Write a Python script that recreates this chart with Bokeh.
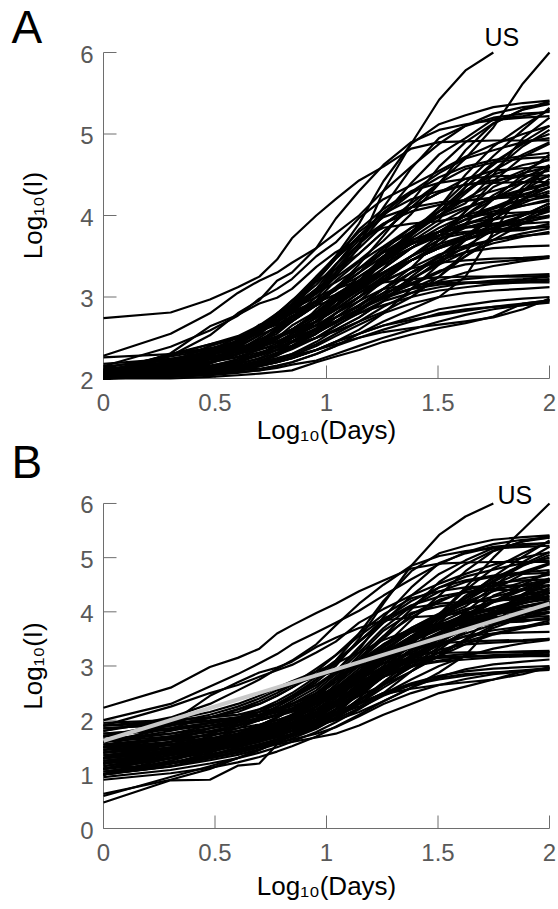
import math
from bokeh.plotting import figure
from bokeh.models import Range1d
from bokeh.core.properties import value
from bokeh.embed import file_html
from bokeh.resources import INLINE

# ---------------- data ----------------
DAYS = [1, 2, 3, 4, 5, 6, 7, 9, 11, 14, 18, 24, 32, 42, 56, 76, 100]
X_TICKS = [0, 0.5, 1, 1.5, 2]
X_TICK_LABELS = ["0", "0.5", "1", "1.5", "2"]
YA_TICKS = [2, 3, 4, 5, 6]
YB_TICKS = [0, 1, 2, 3, 4, 5, 6]
FIT_X = [0, 2]
FIT_Y = [1.62, 4.15]

# Panel A: log10(I), day 1 = first day with >= 100 cases
A_US = [2.0, 2.09, 2.2, 2.34, 2.5, 2.64, 2.75, 3.0, 3.25, 3.62, 4.3, 4.88, 5.42, 5.78, 6.0]
A_02 = [2.08, 2.3, 2.37, 2.46, 2.63, 2.79, 2.96, 3.19, 3.34, 3.53, 3.8, 4.1, 4.4, 4.7, 5.08, 5.62, 6.0]
A_03 = [2.74, 2.81, 2.97, 3.12, 3.25, 3.46, 3.72, 4.0, 4.2, 4.43, 4.6, 4.82, 4.9, 4.91, 4.92, 4.92, 4.92]
A_04 = [2.28, 2.55, 2.8, 3.05, 3.2, 3.3, 3.42, 3.6, 3.78, 4.0, 4.3, 4.6, 4.88, 5.1, 5.25, 5.33, 5.37]
A_05 = [2.02, 2.31, 2.64, 2.78, 2.92, 2.99, 3.1, 3.37, 3.55, 3.71, 3.85, 3.9, 3.93, 3.99, 4.02, 4.04, 4.06]
A_06 = [2.26, 2.3, 2.35, 2.38, 2.42, 2.46, 2.5, 2.58, 2.68, 2.85, 2.98, 3.1, 3.25, 3.55, 3.95, 4.18, 4.23]
A_07 = [2.08, 2.18, 2.3, 2.42, 2.6, 2.78, 2.9, 3.22, 3.5, 3.9, 4.42, 4.88, 5.12, 5.23, 5.33, 5.38, 5.41]
A_08 = [2.11, 2.2, 2.3, 2.42, 2.56, 2.7, 2.9, 3.08, 3.3, 3.66, 4.1, 4.58, 4.95, 5.1, 5.2, 5.25, 5.27]
A_09 = [2.11, 2.15, 2.29, 2.45, 2.6, 2.75, 2.85, 3.05, 3.35, 3.65, 4.0, 4.4, 4.75, 4.95, 5.18, 5.22, 5.28]
A_10 = [2.06, 2.21, 2.32, 2.43, 2.58, 2.66, 2.77, 2.9, 3.1, 3.4, 3.75, 4.17, 4.6, 4.9, 5.13, 5.3, 5.4]
A_11 = [2.06, 2.17, 2.29, 2.41, 2.6, 2.67, 2.87, 3.1, 3.24, 3.45, 3.69, 4.02, 4.39, 4.8, 5.13, 5.3, 5.37]
A_12 = [2.0, 2.28, 2.53, 2.8, 2.96, 3.2, 3.3, 3.6, 3.96, 4.3, 4.62, 4.9, 5.05, 5.12, 5.17, 5.2, 5.22]
A_13 = [2.15, 2.39, 2.59, 2.77, 2.98, 3.1, 3.22, 3.5, 3.67, 3.97, 4.2, 4.37, 4.55, 4.72, 4.87, 5.0, 5.1]
A_14 = [2.04, 2.1, 2.15, 2.24, 2.3, 2.4, 2.5, 2.66, 2.9, 3.19, 3.49, 3.8, 4.1, 4.4, 4.73, 5.05, 5.32]
A_15 = [2.07, 2.16, 2.2, 2.34, 2.42, 2.5, 2.58, 2.7, 2.98, 3.12, 3.35, 3.76, 4.1, 4.5, 4.85, 5.1, 5.3]
A_16 = [2.08, 2.19, 2.3, 2.38, 2.53, 2.63, 2.72, 2.96, 3.2, 3.43, 3.62, 3.85, 4.0, 4.15, 4.5, 4.95, 5.2]
A_17 = [2.08, 2.2, 2.23, 2.3, 2.4, 2.5, 2.6, 2.77, 2.99, 3.2, 3.47, 3.77, 4.05, 4.35, 4.62, 4.9, 5.1]
A_18 = [2.1, 2.24, 2.33, 2.42, 2.6, 2.69, 2.83, 3.05, 3.39, 3.75, 4.04, 4.29, 4.52, 4.7, 4.8, 4.9, 4.95]
A_19 = [2.04, 2.3, 2.37, 2.4, 2.53, 2.75, 2.84, 3.2, 3.47, 3.73, 4.0, 4.27, 4.47, 4.6, 4.68, 4.73, 4.77]
A_20 = [2.07, 2.3, 2.42, 2.5, 2.6, 2.7, 2.8, 3.07, 3.3, 3.6, 3.88, 4.15, 4.4, 4.57, 4.65, 4.7, 4.72]
A_21 = [2.07, 2.13, 2.2, 2.3, 2.38, 2.45, 2.55, 2.75, 2.95, 3.1, 3.45, 3.72, 3.95, 4.35, 4.65, 4.88, 5.0]
A_22 = [2.13, 2.27, 2.35, 2.46, 2.66, 2.72, 2.82, 2.95, 3.08, 3.3, 3.55, 3.76, 4.0, 4.27, 4.55, 4.85, 5.05]
A_23 = [2.08, 2.14, 2.2, 2.3, 2.4, 2.5, 2.6, 2.65, 2.75, 2.88, 3.1, 3.36, 3.7, 4.05, 4.42, 4.72, 4.88]
A_24 = [2.06, 2.28, 2.42, 2.52, 2.65, 2.8, 2.95, 3.25, 3.48, 3.83, 4.08, 4.3, 4.4, 4.45, 4.48, 4.49, 4.49]
A_25 = [2.01, 2.16, 2.26, 2.48, 2.62, 2.8, 2.9, 3.2, 3.47, 3.75, 3.98, 4.1, 4.16, 4.19, 4.21, 4.23, 4.24]
A_26 = [2.08, 2.2, 2.4, 2.5, 2.6, 2.7, 2.8, 2.93, 3.03, 3.2, 3.5, 3.8, 4.0, 4.2, 4.4, 4.55, 4.7]
A_27 = [2.05, 2.2, 2.35, 2.5, 2.62, 2.78, 2.92, 3.25, 3.5, 3.8, 4.02, 4.2, 4.3, 4.38, 4.43, 4.48, 4.55]
A_28 = [2.1, 2.2, 2.32, 2.45, 2.55, 2.7, 2.83, 3.04, 3.27, 3.53, 3.8, 4.1, 4.28, 4.38, 4.4, 4.41, 4.41]
A_29 = [2.1, 2.2, 2.3, 2.44, 2.6, 2.7, 2.85, 3.1, 3.4, 3.7, 3.9, 4.05, 4.13, 4.18, 4.22, 4.26, 4.35]
A_30 = [2.02, 2.04, 2.07, 2.1, 2.12, 2.16, 2.2, 2.3, 2.4, 2.55, 2.7, 2.85, 3.0, 3.25, 3.8, 4.3, 4.6]
A_31 = [2.0, 2.05, 2.15, 2.2, 2.3, 2.4, 2.5, 2.7, 2.9, 3.15, 3.45, 3.75, 4.05, 4.3, 4.5, 4.62, 4.68]
A_32 = [2.05, 2.07, 2.1, 2.15, 2.2, 2.3, 2.4, 2.6, 2.8, 3.0, 3.25, 3.5, 3.75, 4.05, 4.35, 4.52, 4.6]
A_33 = [2.0, 2.05, 2.1, 2.2, 2.3, 2.4, 2.52, 2.7, 2.95, 3.2, 3.5, 3.78, 4.05, 4.3, 4.55, 4.75, 4.9]
A_34 = [2.06, 2.2, 2.3, 2.36, 2.4, 2.48, 2.6, 2.8, 2.98, 3.15, 3.35, 3.6, 3.8, 4.0, 4.25, 4.45, 4.62]
A_35 = [2.03, 2.15, 2.28, 2.4, 2.6, 2.75, 2.9, 3.15, 3.4, 3.65, 3.9, 4.1, 4.28, 4.45, 4.55, 4.58, 4.6]
A_36 = [2.02, 2.2, 2.3, 2.38, 2.45, 2.58, 2.7, 2.9, 3.1, 3.35, 3.6, 3.8, 3.98, 4.1, 4.2, 4.3, 4.38]
A_37 = [2.05, 2.15, 2.2, 2.3, 2.4, 2.5, 2.6, 2.8, 3.0, 3.25, 3.45, 3.65, 3.85, 4.0, 4.1, 4.2, 4.3]
A_38 = [2.07, 2.13, 2.23, 2.3, 2.36, 2.5, 2.65, 2.82, 3.0, 3.2, 3.4, 3.6, 3.8, 4.0, 4.2, 4.4, 4.58]
A_39 = [2.03, 2.15, 2.27, 2.33, 2.36, 2.4, 2.55, 2.85, 3.03, 3.2, 3.45, 3.65, 3.8, 3.95, 4.08, 4.2, 4.35]
A_40 = [2.02, 2.06, 2.12, 2.2, 2.4, 2.6, 2.75, 2.9, 3.1, 3.3, 3.57, 3.85, 4.05, 4.2, 4.3, 4.4, 4.48]
A_41 = [2.0, 2.2, 2.4, 2.5, 2.6, 2.7, 2.8, 2.9, 2.97, 3.12, 3.3, 3.5, 3.7, 3.85, 3.95, 4.02, 4.06]
A_42 = [2.0, 2.15, 2.3, 2.45, 2.58, 2.75, 2.9, 3.05, 3.18, 3.35, 3.55, 3.7, 3.8, 3.85, 3.88, 3.9, 3.92]
A_43 = [2.0, 2.1, 2.18, 2.3, 2.45, 2.55, 2.7, 2.9, 3.1, 3.35, 3.55, 3.7, 3.8, 3.86, 3.9, 3.95, 4.0]
A_44 = [2.03, 2.07, 2.1, 2.15, 2.2, 2.3, 2.4, 2.5, 2.6, 2.75, 2.95, 3.2, 3.45, 3.7, 4.0, 4.35, 4.6]
A_45 = [2.06, 2.08, 2.2, 2.3, 2.4, 2.6, 2.85, 3.0, 3.1, 3.2, 3.3, 3.45, 3.65, 3.9, 4.2, 4.5, 4.75]
A_46 = [2.04, 2.1, 2.2, 2.3, 2.4, 2.5, 2.6, 2.8, 2.95, 3.1, 3.3, 3.45, 3.6, 3.75, 3.95, 4.2, 4.45]
A_47 = [2.05, 2.15, 2.25, 2.35, 2.45, 2.6, 2.7, 2.9, 3.1, 3.3, 3.5, 3.65, 3.8, 3.95, 4.1, 4.25, 4.35]
A_48 = [2.03, 2.12, 2.24, 2.33, 2.48, 2.58, 2.7, 2.95, 3.1, 3.25, 3.45, 3.6, 3.75, 3.9, 4.0, 4.15, 4.28]
A_49 = [2.05, 2.08, 2.1, 2.12, 2.15, 2.2, 2.25, 2.35, 2.45, 2.6, 2.8, 3.1, 3.4, 3.7, 4.0, 4.3, 4.5]
A_50 = [2.07, 2.1, 2.2, 2.3, 2.45, 2.62, 2.75, 2.95, 3.12, 3.35, 3.55, 3.67, 3.72, 3.78, 3.8, 3.82, 3.9]
A_51 = [2.04, 2.1, 2.15, 2.2, 2.3, 2.4, 2.55, 2.7, 2.85, 3.05, 3.25, 3.45, 3.6, 3.72, 3.8, 3.84, 3.86]
A_52 = [2.0, 2.1, 2.2, 2.3, 2.4, 2.5, 2.6, 2.8, 3.0, 3.2, 3.4, 3.6, 3.8, 3.9, 3.96, 4.02, 4.08]
A_53 = [2.0, 2.05, 2.1, 2.15, 2.2, 2.3, 2.4, 2.55, 2.75, 2.95, 3.2, 3.45, 3.6, 3.7, 3.8, 3.9, 4.0]
A_54 = [2.0, 2.05, 2.1, 2.2, 2.3, 2.4, 2.5, 2.6, 2.7, 2.85, 3.05, 3.3, 3.5, 3.7, 3.85, 4.0, 4.1]
A_55 = [2.0, 2.08, 2.15, 2.2, 2.3, 2.4, 2.5, 2.7, 2.9, 3.1, 3.3, 3.5, 3.65, 3.75, 3.85, 3.95, 4.05]
A_56 = [2.0, 2.05, 2.1, 2.15, 2.2, 2.3, 2.45, 2.6, 2.8, 3.0, 3.25, 3.45, 3.6, 3.75, 3.88, 4.0, 4.15]
A_57 = [2.0, 2.05, 2.13, 2.2, 2.3, 2.35, 2.45, 2.6, 2.75, 2.9, 3.1, 3.3, 3.45, 3.55, 3.6, 3.62, 3.63]
A_58 = [2.0, 2.05, 2.1, 2.15, 2.2, 2.25, 2.3, 2.45, 2.6, 2.75, 2.95, 3.25, 3.5, 3.75, 4.0, 4.2, 4.35]
A_59 = [2.04, 2.07, 2.1, 2.2, 2.3, 2.35, 2.4, 2.5, 2.58, 2.7, 2.82, 3.0, 3.25, 3.5, 3.75, 3.95, 4.12]
A_60 = [2.0, 2.05, 2.1, 2.18, 2.25, 2.35, 2.45, 2.6, 2.7, 2.85, 3.0, 3.15, 3.3, 3.5, 3.7, 3.9, 4.1]
A_61 = [2.0, 2.07, 2.13, 2.2, 2.28, 2.35, 2.45, 2.6, 2.75, 2.9, 3.05, 3.17, 3.32, 3.4, 3.43, 3.46, 3.5]
A_62 = [2.06, 2.2, 2.3, 2.35, 2.4, 2.5, 2.6, 2.8, 2.95, 3.1, 3.18, 3.22, 3.24, 3.25, 3.25, 3.25, 3.26]
A_63 = [2.0, 2.05, 2.12, 2.2, 2.3, 2.4, 2.5, 2.7, 2.9, 3.15, 3.45, 3.65, 3.76, 3.8, 3.83, 3.85, 3.87]
A_64 = [2.02, 2.05, 2.1, 2.15, 2.2, 2.3, 2.5, 2.7, 2.85, 3.05, 3.2, 3.35, 3.42, 3.45, 3.47, 3.48, 3.5]
A_65 = [2.0, 2.06, 2.12, 2.2, 2.3, 2.4, 2.5, 2.65, 2.8, 2.95, 3.1, 3.15, 3.17, 3.18, 3.18, 3.18, 3.18]
A_66 = [2.0, 2.05, 2.1, 2.15, 2.2, 2.3, 2.4, 2.55, 2.7, 2.85, 3.0, 3.1, 3.15, 3.17, 3.18, 3.2, 3.22]
A_67 = [2.0, 2.05, 2.1, 2.2, 2.3, 2.4, 2.5, 2.6, 2.7, 2.85, 3.0, 3.1, 3.18, 3.22, 3.25, 3.27, 3.28]
A_68 = [2.0, 2.15, 2.25, 2.35, 2.4, 2.45, 2.5, 2.6, 2.7, 2.8, 2.9, 3.0, 3.08, 3.12, 3.16, 3.18, 3.2]
A_69 = [2.0, 2.05, 2.1, 2.15, 2.2, 2.28, 2.38, 2.5, 2.65, 2.8, 2.95, 3.05, 3.12, 3.17, 3.2, 3.22, 3.25]
A_70 = [2.0, 2.04, 2.08, 2.1, 2.15, 2.2, 2.25, 2.35, 2.45, 2.55, 2.65, 2.75, 2.85, 2.9, 2.95, 2.98, 3.0]
A_71 = [2.0, 2.02, 2.05, 2.08, 2.1, 2.15, 2.2, 2.3, 2.4, 2.5, 2.6, 2.7, 2.8, 2.85, 2.88, 2.9, 2.93]
A_72 = [2.0, 2.03, 2.06, 2.1, 2.15, 2.2, 2.25, 2.35, 2.45, 2.55, 2.65, 2.72, 2.78, 2.83, 2.88, 2.92, 2.96]
A_73 = [2.0, 2.02, 2.04, 2.07, 2.1, 2.13, 2.17, 2.22, 2.3, 2.4, 2.5, 2.6, 2.7, 2.78, 2.85, 2.9, 2.95]
A_74 = [2.0, 2.04, 2.08, 2.13, 2.18, 2.23, 2.28, 2.35, 2.42, 2.5, 2.57, 2.62, 2.66, 2.7, 2.75, 2.85, 2.98]
A_75 = [2.0, 2.0, 2.02, 2.04, 2.06, 2.08, 2.1, 2.2, 2.27, 2.35, 2.45, 2.54, 2.62, 2.68, 2.76, 2.92, 2.96]
A_76 = [2.01, 2.06, 2.12, 2.18, 2.24, 2.32, 2.4, 2.55, 2.7, 2.9, 3.1, 3.3, 3.48, 3.6, 3.7, 3.78, 3.84]
A_77 = [2.03, 2.1, 2.16, 2.22, 2.3, 2.38, 2.46, 2.62, 2.8, 3.0, 3.22, 3.45, 3.62, 3.75, 3.85, 3.92, 3.98]
A_78 = [2.12, 2.18, 2.26, 2.34, 2.42, 2.5, 2.58, 2.74, 2.9, 3.08, 3.28, 3.5, 3.7, 3.88, 4.02, 4.12, 4.2]
A_79 = [2.02, 2.05, 2.09, 2.13, 2.18, 2.24, 2.3, 2.42, 2.55, 2.7, 2.88, 3.05, 3.2, 3.3, 3.38, 3.44, 3.48]
A_80 = [2.15, 2.22, 2.3, 2.37, 2.44, 2.52, 2.6, 2.78, 2.95, 3.18, 3.42, 3.68, 3.9, 4.08, 4.22, 4.32, 4.4]
A_81 = [2.0, 2.03, 2.07, 2.11, 2.16, 2.22, 2.28, 2.4, 2.52, 2.66, 2.8, 2.92, 3.0, 3.05, 3.08, 3.1, 3.12]
A_82 = [2.05, 2.12, 2.2, 2.27, 2.35, 2.43, 2.52, 2.7, 2.88, 3.1, 3.35, 3.6, 3.8, 3.95, 4.05, 4.12, 4.18]
A_83 = [2.18, 2.24, 2.3, 2.36, 2.43, 2.5, 2.57, 2.7, 2.84, 3.0, 3.18, 3.36, 3.52, 3.63, 3.7, 3.75, 3.78]
A_84 = [2.0, 2.04, 2.1, 2.16, 2.22, 2.29, 2.36, 2.5, 2.64, 2.82, 3.02, 3.22, 3.4, 3.55, 3.66, 3.74, 3.8]
A_85 = [2.08, 2.14, 2.2, 2.26, 2.32, 2.38, 2.44, 2.56, 2.68, 2.84, 3.02, 3.22, 3.42, 3.62, 3.82, 4.0, 4.15]

# Panel B: log10(I), other day-1 alignment
B_US = [1.45, 1.7, 1.85, 1.97, 2.1, 2.25, 2.4, 2.7, 3.0, 3.5, 4.15, 4.85, 5.42, 5.76, 6.0]
B_02 = [1.3, 1.5, 1.65, 1.8, 1.9, 2.0, 2.1, 2.3, 2.5, 2.8, 3.1, 3.5, 3.95, 4.45, 5.0, 5.52, 6.0]
B_03 = [2.23, 2.6, 2.98, 3.15, 3.32, 3.6, 3.75, 3.98, 4.15, 4.38, 4.58, 4.8, 4.89, 4.91, 4.92, 4.92, 4.92]
B_04 = [2.0, 2.3, 2.62, 2.85, 3.05, 3.22, 3.4, 3.62, 3.8, 4.02, 4.3, 4.6, 4.88, 5.1, 5.25, 5.33, 5.37]
B_05 = [1.5, 1.95, 2.45, 2.7, 2.88, 2.97, 3.08, 3.35, 3.52, 3.7, 3.84, 3.9, 3.93, 3.99, 4.02, 4.04, 4.06]
B_06 = [1.9, 1.95, 2.0, 2.05, 2.1, 2.15, 2.2, 2.3, 2.42, 2.6, 2.8, 2.98, 3.18, 3.5, 3.92, 4.17, 4.23]
B_07 = [1.7, 1.85, 1.95, 2.05, 2.2, 2.35, 2.5, 2.8, 3.1, 3.6, 4.2, 4.75, 5.08, 5.22, 5.33, 5.38, 5.41]
B_08 = [1.4, 1.6, 1.75, 1.9, 2.05, 2.2, 2.35, 2.6, 2.9, 3.3, 3.9, 4.45, 4.9, 5.08, 5.2, 5.25, 5.27]
B_09 = [1.9, 2.0, 2.05, 2.1, 2.2, 2.3, 2.4, 2.65, 2.9, 3.35, 3.8, 4.3, 4.7, 4.95, 5.18, 5.22, 5.28]
B_10 = [1.6, 1.75, 1.9, 2.0, 2.1, 2.2, 2.3, 2.5, 2.75, 3.1, 3.55, 4.05, 4.55, 4.88, 5.13, 5.3, 5.4]
B_11 = [1.2, 1.4, 1.55, 1.7, 1.8, 1.9, 2.0, 2.25, 2.5, 2.9, 3.35, 3.85, 4.3, 4.75, 5.12, 5.3, 5.37]
B_12 = [1.8, 2.05, 2.3, 2.55, 2.75, 2.95, 3.1, 3.4, 3.75, 4.15, 4.5, 4.85, 5.03, 5.12, 5.17, 5.2, 5.22]
B_13 = [1.9, 2.25, 2.5, 2.65, 2.8, 2.92, 3.02, 3.25, 3.45, 3.8, 4.05, 4.3, 4.52, 4.7, 4.87, 5.0, 5.1]
B_14 = [1.05, 1.22, 1.35, 1.47, 1.56, 1.64, 1.72, 1.87, 2.05, 2.4, 2.85, 3.3, 3.8, 4.25, 4.65, 5.02, 5.32]
B_15 = [1.0, 1.2, 1.35, 1.5, 1.6, 1.7, 1.8, 2.0, 2.3, 2.65, 3.0, 3.5, 3.95, 4.4, 4.8, 5.08, 5.3]
B_16 = [1.3, 1.5, 1.7, 1.85, 2.0, 2.1, 2.2, 2.45, 2.75, 3.05, 3.35, 3.65, 3.9, 4.1, 4.45, 4.92, 5.2]
B_17 = [1.15, 1.35, 1.48, 1.58, 1.66, 1.74, 1.85, 2.07, 2.35, 2.75, 3.1, 3.5, 3.9, 4.25, 4.58, 4.88, 5.1]
B_18 = [1.5, 1.7, 1.85, 1.95, 2.05, 2.15, 2.3, 2.55, 2.85, 3.25, 3.7, 4.1, 4.45, 4.65, 4.78, 4.9, 4.95]
B_19 = [1.6, 1.8, 1.95, 2.05, 2.15, 2.3, 2.45, 2.75, 3.05, 3.45, 3.85, 4.2, 4.45, 4.58, 4.67, 4.73, 4.77]
B_20 = [1.7, 1.9, 2.05, 2.15, 2.3, 2.45, 2.6, 2.85, 3.1, 3.45, 3.8, 4.1, 4.37, 4.55, 4.65, 4.7, 4.72]
B_21 = [1.0, 1.2, 1.4, 1.55, 1.7, 1.8, 1.95, 2.2, 2.45, 2.75, 3.15, 3.55, 3.9, 4.3, 4.62, 4.87, 5.0]
B_22 = [1.3, 1.6, 1.85, 2.0, 2.15, 2.3, 2.45, 2.65, 2.85, 3.1, 3.4, 3.7, 3.97, 4.25, 4.55, 4.85, 5.05]
B_23 = [1.2, 1.35, 1.5, 1.6, 1.7, 1.8, 1.9, 2.05, 2.25, 2.5, 2.8, 3.2, 3.6, 4.0, 4.4, 4.7, 4.88]
B_24 = [1.6, 1.85, 2.05, 2.2, 2.35, 2.5, 2.65, 2.95, 3.2, 3.6, 3.95, 4.25, 4.38, 4.45, 4.48, 4.49, 4.49]
B_25 = [1.7, 1.9, 2.05, 2.2, 2.3, 2.45, 2.6, 2.9, 3.2, 3.55, 3.88, 4.07, 4.15, 4.19, 4.21, 4.23, 4.24]
B_26 = [1.1, 1.3, 1.45, 1.6, 1.75, 1.9, 2.05, 2.35, 2.65, 3.0, 3.35, 3.7, 3.95, 4.18, 4.38, 4.55, 4.7]
B_27 = [1.3, 1.55, 1.75, 1.9, 2.05, 2.25, 2.4, 2.75, 3.05, 3.45, 3.85, 4.12, 4.28, 4.37, 4.43, 4.48, 4.55]
B_28 = [1.0, 1.25, 1.45, 1.6, 1.75, 1.9, 2.05, 2.35, 2.65, 3.1, 3.5, 3.95, 4.22, 4.36, 4.4, 4.41, 4.41]
B_29 = [1.1, 1.35, 1.5, 1.65, 1.8, 1.95, 2.1, 2.4, 2.75, 3.2, 3.65, 3.98, 4.1, 4.17, 4.22, 4.26, 4.35]
B_30 = [1.5, 1.55, 1.6, 1.65, 1.7, 1.75, 1.8, 1.9, 2.0, 2.15, 2.35, 2.6, 2.88, 3.2, 3.75, 4.28, 4.6]
B_31 = [1.1, 1.2, 1.3, 1.4, 1.5, 1.6, 1.72, 1.95, 2.2, 2.55, 2.95, 3.45, 3.9, 4.25, 4.48, 4.62, 4.68]
B_32 = [1.3, 1.4, 1.5, 1.6, 1.65, 1.72, 1.8, 1.95, 2.1, 2.35, 2.7, 3.1, 3.5, 3.9, 4.3, 4.5, 4.6]
B_33 = [1.4, 1.48, 1.55, 1.6, 1.66, 1.72, 1.8, 1.98, 2.2, 2.55, 2.95, 3.4, 3.85, 4.2, 4.5, 4.74, 4.9]
B_34 = [1.0, 1.25, 1.45, 1.6, 1.7, 1.8, 1.9, 2.1, 2.35, 2.65, 2.95, 3.3, 3.62, 3.9, 4.2, 4.43, 4.62]
B_35 = [1.2, 1.4, 1.6, 1.75, 1.9, 2.05, 2.2, 2.5, 2.8, 3.15, 3.55, 3.9, 4.18, 4.4, 4.53, 4.58, 4.6]
B_36 = [1.0, 1.3, 1.5, 1.65, 1.8, 1.95, 2.1, 2.35, 2.6, 2.95, 3.3, 3.62, 3.88, 4.05, 4.18, 4.3, 4.38]
B_37 = [1.3, 1.45, 1.55, 1.65, 1.75, 1.85, 1.95, 2.2, 2.45, 2.8, 3.15, 3.48, 3.75, 3.95, 4.08, 4.2, 4.3]
B_38 = [1.3, 1.5, 1.65, 1.75, 1.85, 1.95, 2.05, 2.3, 2.55, 2.85, 3.15, 3.45, 3.72, 3.96, 4.18, 4.4, 4.58]
B_39 = [0.64, 0.9, 1.1, 1.3, 1.45, 1.6, 1.75, 2.0, 2.3, 2.7, 3.1, 3.45, 3.7, 3.9, 4.05, 4.2, 4.35]
B_40 = [1.3, 1.42, 1.52, 1.6, 1.68, 1.77, 1.87, 2.1, 2.4, 2.8, 3.25, 3.65, 3.95, 4.15, 4.28, 4.4, 4.48]
B_41 = [1.7, 1.95, 2.1, 2.25, 2.4, 2.55, 2.65, 2.8, 2.9, 3.05, 3.22, 3.45, 3.67, 3.83, 3.95, 4.02, 4.06]
B_42 = [1.8, 2.0, 2.15, 2.3, 2.45, 2.6, 2.72, 2.9, 3.05, 3.25, 3.48, 3.67, 3.78, 3.85, 3.88, 3.9, 3.92]
B_43 = [1.5, 1.65, 1.8, 1.9, 2.0, 2.1, 2.22, 2.45, 2.7, 3.05, 3.4, 3.63, 3.77, 3.85, 3.9, 3.95, 4.0]
B_44 = [1.5, 1.55, 1.6, 1.65, 1.7, 1.78, 1.85, 1.98, 2.12, 2.35, 2.65, 3.0, 3.35, 3.65, 3.98, 4.33, 4.6]
B_45 = [1.25, 1.4, 1.55, 1.68, 1.8, 1.92, 2.05, 2.35, 2.6, 2.9, 3.1, 3.35, 3.6, 3.87, 4.18, 4.5, 4.75]
B_46 = [1.5, 1.6, 1.67, 1.73, 1.8, 1.86, 1.92, 2.08, 2.3, 2.6, 2.95, 3.25, 3.5, 3.7, 3.93, 4.2, 4.45]
B_47 = [1.35, 1.5, 1.62, 1.72, 1.82, 1.92, 2.02, 2.25, 2.5, 2.82, 3.2, 3.5, 3.72, 3.92, 4.08, 4.24, 4.35]
B_48 = [1.85, 1.92, 1.98, 2.03, 2.08, 2.14, 2.2, 2.35, 2.55, 2.87, 3.2, 3.48, 3.7, 3.87, 4.0, 4.15, 4.28]
B_49 = [1.2, 1.4, 1.55, 1.65, 1.75, 1.82, 1.9, 2.0, 2.1, 2.25, 2.5, 2.9, 3.3, 3.65, 3.98, 4.3, 4.5]
B_50 = [1.0, 1.15, 1.3, 1.4, 1.5, 1.6, 1.7, 1.9, 2.2, 2.7, 3.2, 3.55, 3.7, 3.77, 3.8, 3.82, 3.9]
B_51 = [1.75, 1.82, 1.9, 1.97, 2.03, 2.1, 2.17, 2.32, 2.48, 2.75, 3.05, 3.35, 3.55, 3.7, 3.79, 3.84, 3.86]
B_52 = [1.55, 1.65, 1.73, 1.8, 1.88, 1.96, 2.05, 2.25, 2.55, 2.9, 3.25, 3.55, 3.77, 3.89, 3.96, 4.02, 4.08]
B_53 = [1.45, 1.55, 1.62, 1.7, 1.78, 1.85, 1.92, 2.08, 2.27, 2.58, 2.95, 3.3, 3.55, 3.7, 3.8, 3.9, 4.0]
B_54 = [1.35, 1.48, 1.58, 1.66, 1.73, 1.8, 1.87, 2.02, 2.2, 2.45, 2.8, 3.15, 3.45, 3.68, 3.85, 4.0, 4.1]
B_55 = [1.1, 1.3, 1.45, 1.6, 1.7, 1.8, 1.9, 2.15, 2.4, 2.75, 3.1, 3.4, 3.6, 3.74, 3.85, 3.95, 4.05]
B_56 = [1.25, 1.38, 1.47, 1.55, 1.62, 1.68, 1.74, 1.92, 2.15, 2.5, 2.9, 3.3, 3.55, 3.73, 3.88, 4.0, 4.15]
B_57 = [1.6, 1.7, 1.78, 1.85, 1.92, 2.0, 2.07, 2.2, 2.35, 2.58, 2.88, 3.2, 3.42, 3.55, 3.6, 3.62, 3.63]
B_58 = [1.0, 1.2, 1.35, 1.45, 1.55, 1.65, 1.75, 1.9, 2.05, 2.3, 2.65, 3.05, 3.42, 3.72, 4.0, 4.2, 4.35]
B_59 = [1.4, 1.55, 1.65, 1.75, 1.85, 1.92, 2.0, 2.15, 2.28, 2.45, 2.65, 2.9, 3.2, 3.48, 3.75, 3.95, 4.12]
B_60 = [0.6, 0.95, 1.15, 1.3, 1.45, 1.6, 1.72, 1.95, 2.2, 2.5, 2.8, 3.05, 3.25, 3.48, 3.7, 3.9, 4.1]
B_61 = [1.2, 1.4, 1.55, 1.68, 1.8, 1.9, 2.0, 2.25, 2.5, 2.75, 2.98, 3.15, 3.3, 3.4, 3.43, 3.46, 3.5]
B_62 = [1.2, 1.45, 1.6, 1.75, 1.9, 2.05, 2.2, 2.5, 2.75, 3.0, 3.15, 3.22, 3.24, 3.25, 3.25, 3.25, 3.26]
B_63 = [1.4, 1.55, 1.65, 1.72, 1.8, 1.88, 1.95, 2.15, 2.45, 2.85, 3.3, 3.62, 3.76, 3.8, 3.83, 3.85, 3.87]
B_64 = [1.5, 1.55, 1.6, 1.65, 1.7, 1.75, 1.8, 1.9, 2.1, 2.5, 2.95, 3.3, 3.42, 3.45, 3.47, 3.48, 3.5]
B_65 = [1.95, 2.0, 2.05, 2.1, 2.15, 2.22, 2.3, 2.45, 2.6, 2.85, 3.05, 3.15, 3.17, 3.18, 3.18, 3.18, 3.18]
B_66 = [1.65, 1.75, 1.85, 1.92, 2.0, 2.08, 2.15, 2.3, 2.45, 2.7, 2.92, 3.08, 3.15, 3.17, 3.18, 3.2, 3.22]
B_67 = [1.1, 1.3, 1.45, 1.6, 1.75, 1.9, 2.05, 2.3, 2.5, 2.75, 2.98, 3.1, 3.18, 3.22, 3.25, 3.27, 3.28]
B_68 = [1.2, 1.45, 1.6, 1.75, 1.9, 2.05, 2.2, 2.4, 2.55, 2.72, 2.88, 3.0, 3.08, 3.12, 3.16, 3.18, 3.2]
B_69 = [1.55, 1.65, 1.72, 1.8, 1.88, 1.95, 2.02, 2.15, 2.3, 2.55, 2.8, 3.0, 3.1, 3.17, 3.2, 3.22, 3.25]
B_70 = [1.0, 1.2, 1.35, 1.5, 1.6, 1.7, 1.8, 1.95, 2.1, 2.3, 2.5, 2.68, 2.82, 2.9, 2.95, 2.98, 3.0]
B_71 = [1.3, 1.4, 1.48, 1.55, 1.62, 1.68, 1.75, 1.88, 2.02, 2.22, 2.45, 2.65, 2.78, 2.85, 2.88, 2.9, 2.93]
B_72 = [1.0, 1.15, 1.3, 1.4, 1.5, 1.6, 1.7, 1.85, 2.05, 2.3, 2.5, 2.65, 2.75, 2.82, 2.88, 2.92, 2.96]
B_73 = [1.2, 1.3, 1.38, 1.45, 1.52, 1.58, 1.64, 1.75, 1.87, 2.07, 2.3, 2.5, 2.65, 2.76, 2.85, 2.9, 2.95]
B_74 = [1.1, 1.3, 1.45, 1.55, 1.65, 1.75, 1.85, 2.0, 2.15, 2.32, 2.48, 2.58, 2.65, 2.7, 2.75, 2.85, 2.98]
B_75 = [0.48, 0.89, 0.9, 1.16, 1.2, 1.55, 1.6, 1.68, 1.75, 1.9, 2.1, 2.3, 2.5, 2.62, 2.75, 2.9, 2.96]
B_76 = [1.05, 1.2, 1.32, 1.42, 1.52, 1.62, 1.72, 1.9, 2.1, 2.38, 2.68, 2.98, 3.25, 3.45, 3.6, 3.72, 3.84]
B_77 = [1.15, 1.3, 1.42, 1.52, 1.62, 1.72, 1.82, 2.0, 2.2, 2.48, 2.8, 3.12, 3.4, 3.6, 3.76, 3.88, 3.98]
B_78 = [1.75, 1.85, 1.94, 2.02, 2.1, 2.18, 2.26, 2.42, 2.6, 2.84, 3.1, 3.38, 3.62, 3.82, 3.98, 4.1, 4.2]
B_79 = [0.95, 1.08, 1.2, 1.3, 1.4, 1.5, 1.6, 1.78, 1.96, 2.2, 2.48, 2.75, 3.0, 3.18, 3.32, 3.42, 3.48]
B_80 = [1.55, 1.68, 1.8, 1.9, 2.0, 2.1, 2.2, 2.4, 2.6, 2.88, 3.18, 3.5, 3.8, 4.02, 4.2, 4.32, 4.4]
B_81 = [0.9, 1.02, 1.12, 1.22, 1.32, 1.42, 1.52, 1.7, 1.88, 2.1, 2.35, 2.6, 2.8, 2.94, 3.03, 3.08, 3.12]
B_82 = [1.25, 1.38, 1.5, 1.6, 1.7, 1.8, 1.9, 2.1, 2.32, 2.62, 2.95, 3.28, 3.58, 3.82, 3.98, 4.1, 4.18]
B_83 = [1.85, 1.92, 1.98, 2.04, 2.1, 2.16, 2.22, 2.36, 2.5, 2.7, 2.92, 3.15, 3.38, 3.55, 3.66, 3.73, 3.78]
B_84 = [1.0, 1.14, 1.26, 1.36, 1.46, 1.56, 1.66, 1.84, 2.04, 2.3, 2.6, 2.9, 3.18, 3.4, 3.58, 3.7, 3.8]
B_85 = [1.45, 1.55, 1.64, 1.72, 1.8, 1.88, 1.96, 2.12, 2.3, 2.55, 2.85, 3.18, 3.5, 3.78, 3.98, 4.08, 4.15]

PANEL_A = [A_US, A_02, A_03, A_04, A_05, A_06, A_07, A_08, A_09, A_10, A_11, A_12, A_13, A_14, A_15,
           A_16, A_17, A_18, A_19, A_20, A_21, A_22, A_23, A_24, A_25, A_26, A_27, A_28, A_29, A_30,
           A_31, A_32, A_33, A_34, A_35, A_36, A_37, A_38, A_39, A_40, A_41, A_42, A_43, A_44, A_45,
           A_46, A_47, A_48, A_49, A_50, A_51, A_52, A_53, A_54, A_55, A_56, A_57, A_58, A_59, A_60,
           A_61, A_62, A_63, A_64, A_65, A_66, A_67, A_68, A_69, A_70, A_71, A_72, A_73, A_74, A_75,
           A_76, A_77, A_78, A_79, A_80, A_81, A_82, A_83, A_84, A_85]
PANEL_B = [B_US, B_02, B_03, B_04, B_05, B_06, B_07, B_08, B_09, B_10, B_11, B_12, B_13, B_14, B_15,
           B_16, B_17, B_18, B_19, B_20, B_21, B_22, B_23, B_24, B_25, B_26, B_27, B_28, B_29, B_30,
           B_31, B_32, B_33, B_34, B_35, B_36, B_37, B_38, B_39, B_40, B_41, B_42, B_43, B_44, B_45,
           B_46, B_47, B_48, B_49, B_50, B_51, B_52, B_53, B_54, B_55, B_56, B_57, B_58, B_59, B_60,
           B_61, B_62, B_63, B_64, B_65, B_66, B_67, B_68, B_69, B_70, B_71, B_72, B_73, B_74, B_75,
           B_76, B_77, B_78, B_79, B_80, B_81, B_82, B_83, B_84, B_85]

# ---------------- layout (picture pixels) ----------------
W, H = 556, 907                        # figure size
X0_PX, X_PER = 103.0, 223.0            # x = 0 at px 103, 223 px per unit
A_Y2_PX, A_PER = 378.0, 81.5           # panel A: y = 2 at px 378
B_Y0_PX, B_PER = 828.0, 54.17          # panel B: y = 0 at px 828
TICK_LEN = 13.0
FONT = "Liberation Sans"
AXIS_GRAY = "#6e6e6e"
TICK_GRAY = "#595959"


def ax(px):
    return (px - X0_PX) / X_PER


def ayA(py):
    return 2 + (A_Y2_PX - py) / A_PER


def ayB(py):
    return (B_Y0_PX - py) / B_PER


p = figure(width=W, height=H,
           x_range=Range1d(ax(0), ax(W)), y_range=Range1d(ayA(H), ayA(0)),
           x_axis_type=None, y_axis_type=None,
           output_backend="svg", toolbar_location=None, min_border=0)
p.extra_y_ranges = {"B": Range1d(ayB(H), ayB(0))}
p.outline_line_color = None
p.background_fill_color = "white"
p.border_fill_color = "white"


def txt(xs, ys, texts, size, color, align, rng, angle=0.0):
    kw = {"y_range_name": rng} if rng else {}
    p.text(x=xs, y=ys, text=texts, angle=angle,
           text_font=value(FONT), text_font_size=value(size),
           text_color=color, text_align=value(align),
           text_baseline=value("middle"), **kw)


def panel(series, ymin, yticks, ay, per, y0_py, rng, letter, letter_py, us_px, us_py,
          xlabel_py, fit=None):
    kw = {"y_range_name": rng} if rng else {}
    # axes
    p.segment(x0=[0, 0], y0=[ymin, ymin], x1=[0, 2], y1=[6, ymin],
              line_color=AXIS_GRAY, line_width=1, **kw)
    # ticks (pointing inward)
    p.segment(x0=X_TICKS, y0=[ymin] * len(X_TICKS), x1=X_TICKS,
              y1=[ymin + TICK_LEN / per] * len(X_TICKS),
              line_color=AXIS_GRAY, line_width=1, **kw)
    p.segment(x0=[0] * len(yticks), y0=yticks, x1=[TICK_LEN / X_PER] * len(yticks),
              y1=yticks, line_color=AXIS_GRAY, line_width=1, **kw)
    # data
    xs = [[math.log10(d) for d in DAYS[:len(s)]] for s in series]
    p.multi_line(xs, series, line_color="black", line_width=2.2, line_join="round", **kw)
    if fit is not None:
        p.line(fit[0], fit[1], line_color="#c8c8c8", line_width=4, **kw)
    # tick labels (vertically centred on their anchor)
    txt(X_TICKS, [ay(y0_py + 23.5)] * len(X_TICKS), X_TICK_LABELS, "24px", TICK_GRAY,
        "center", rng)
    txt([ax(X0_PX - 10)] * len(yticks), [t - 1.5 / per for t in yticks],
        [str(t) for t in yticks], "24px", TICK_GRAY, "right", rng)
    # axis labels
    txt([1.0], [ay(xlabel_py)], ["Log\u2081\u2080(Days)"], "26px", "black", "center", rng)
    txt([ax(32)], [(ymin + 6) / 2.0], ["Log\u2081\u2080(I)"], "26px", "black",
        "center", rng, angle=math.pi / 2)
    # panel letter and US label
    txt([ax(11)], [ay(letter_py)], [letter], "46px", "black", "left", rng)
    txt([ax(us_px)], [ay(us_py)], ["US"], "25px", "black", "left", rng)


panel(PANEL_A, 2, YA_TICKS, ayA, A_PER, A_Y2_PX, None, "A", 26, 484, 36, 429)
panel(PANEL_B, 0, YB_TICKS, ayB, B_PER, B_Y0_PX, "B", "B", 461, 497, 494, 885,
      fit=(FIT_X, FIT_Y))

open("out.html", "w").write(file_html(p, INLINE))
